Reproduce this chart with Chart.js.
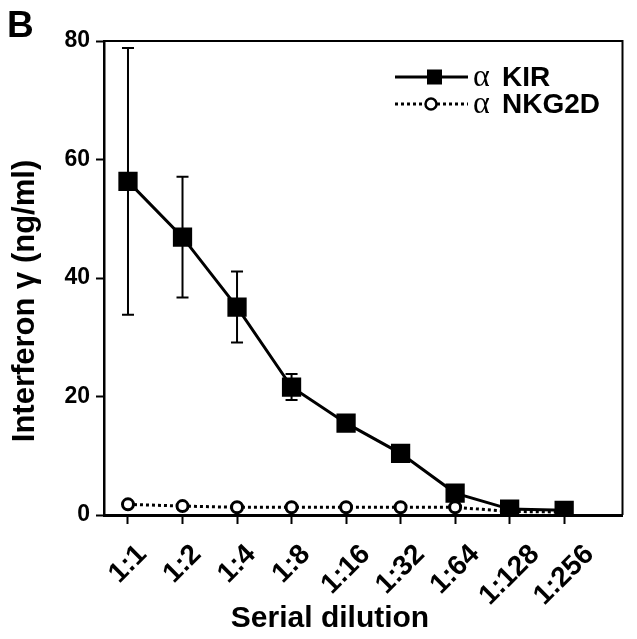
<!DOCTYPE html>
<html>
<head>
<meta charset="utf-8">
<script src="https://cdn.jsdelivr.net/npm/chart.js@4"></script>
<style>
  body { margin: 0; background: #fff; }
</style>
</head>
<body>
<canvas id="chart" width="637" height="639"></canvas>
<script>
const dilutions = ['1:1', '1:2', '1:4', '1:8', '1:16', '1:32', '1:64', '1:128', '1:256'];
const kir = [56.3, 46.9, 35.1, 21.6, 15.5, 10.4, 3.7, 1.0, 0.8];
const kirErr = [22.5, 10.2, 6.0, 2.2, 0, 0, 0, 0, 0];
const nkg2d = [1.8, 1.5, 1.3, 1.3, 1.3, 1.3, 1.3, 0.6, 0.5];
const yTicks = [0, 20, 40, 60, 80];

const sans = "'Liberation Sans', Arial, sans-serif";

// error bars under the KIR squares
const errorBars = {
  id: 'errorBars',
  beforeDatasetsDraw(chart) {
    const ctx = chart.ctx;
    const x = chart.scales.x, y = chart.scales.y;
    ctx.save();
    ctx.strokeStyle = '#000';
    ctx.lineWidth = 2;
    kir.forEach((v, i) => {
      if (!kirErr[i]) return;
      const px = x.getPixelForValue(i);
      const top = y.getPixelForValue(v + kirErr[i]);
      const bot = y.getPixelForValue(v - kirErr[i]);
      ctx.beginPath();
      ctx.moveTo(px, top); ctx.lineTo(px, bot);
      ctx.moveTo(px - 6, top); ctx.lineTo(px + 6, top);
      ctx.moveTo(px - 6, bot); ctx.lineTo(px + 6, bot);
      ctx.stroke();
    });
    ctx.restore();
  }
};

// frame, rotated dilution labels, titles, panel letter and legend
const extras = {
  id: 'extras',
  afterDraw(chart) {
    const ctx = chart.ctx;
    const a = chart.chartArea;
    const xs = chart.scales.x;
    ctx.save();
    ctx.strokeStyle = '#000';
    ctx.fillStyle = '#000';
    ctx.lineWidth = 2;
    ctx.beginPath();
    ctx.moveTo(a.left, a.top); ctx.lineTo(a.right, a.top); ctx.lineTo(a.right, a.bottom);
    ctx.stroke();

    // tick labels, centred on their tick, tilted 45 degrees
    ctx.font = 'bold 28px ' + sans;
    ctx.textAlign = 'right';
    ctx.textBaseline = 'middle';
    dilutions.forEach((lab, i) => {
      const w = ctx.measureText(lab).width;
      const px = xs.getPixelForValue(i);
      ctx.save();
      ctx.translate(px + w / 2 * Math.SQRT1_2, a.bottom + 35);
      ctx.rotate(-Math.PI / 4);
      ctx.fillText(lab, 0, 0);
      ctx.restore();
    });

    // axis titles
    ctx.textAlign = 'center';
    ctx.font = 'bold 30px ' + sans;
    ctx.textBaseline = 'alphabetic';
    ctx.fillText('Serial dilution', 330, 627);
    ctx.save();
    ctx.translate(25, 301);
    ctx.rotate(-Math.PI / 2);
    ctx.textBaseline = 'middle';
    ctx.font = 'bold 31px ' + sans;
    ctx.fillText('Interferon \u03b3 (ng/ml)', 0, 0);
    ctx.restore();

    ctx.textAlign = 'left';
    ctx.font = 'bold 37px ' + sans;
    ctx.fillText('B', 7, 37);

    // legend
    const rows = [
      { y: 77, label: 'KIR', dash: [], marker: 'square' },
      { y: 104, label: 'NKG2D', dash: [3, 3], marker: 'circle' }
    ];
    rows.forEach(r => {
      ctx.lineWidth = 3;
      ctx.setLineDash(r.dash);
      ctx.beginPath();
      ctx.moveTo(395, r.y); ctx.lineTo(468, r.y);
      ctx.stroke();
      ctx.setLineDash([]);
      if (r.marker === 'square') {
        ctx.fillRect(427, r.y - 7.5, 15, 15);
      } else {
        ctx.fillStyle = '#fff';
        ctx.beginPath();
        ctx.arc(431, r.y, 5.5, 0, Math.PI * 2);
        ctx.fill();
        ctx.lineWidth = 2.5;
        ctx.stroke();
        ctx.fillStyle = '#000';
      }
      ctx.textBaseline = 'middle';
      ctx.font = '32px "Liberation Serif", serif';
      ctx.fillText('\u03b1', 473, r.y + 1);
      ctx.font = 'bold 28px ' + sans;
      ctx.fillText(r.label, 502, r.y + 1);
    });
    ctx.restore();
  }
};

new Chart(document.getElementById('chart'), {
  type: 'line',
  data: {
    datasets: [
      {
        label: '\u03b1 NKG2D',
        data: nkg2d.map((v, i) => ({ x: i, y: v })),
        borderColor: '#000',
        borderWidth: 3,
        borderDash: [3, 3],
        pointStyle: 'circle',
        pointRadius: 5.5,
        pointBorderWidth: 3,
        pointBackgroundColor: '#fff',
        pointBorderColor: '#000',
        order: 2
      },
      {
        label: '\u03b1 KIR',
        data: kir.map((v, i) => ({ x: i, y: v })),
        borderColor: '#000',
        borderWidth: 3,
        pointStyle: 'rect',
        pointRadius: 11.5,
        pointBackgroundColor: '#000',
        pointBorderColor: '#000',
        order: 1
      }
    ]
  },
  options: {
    responsive: false,
    animation: false,
    layout: { padding: { top: 41, right: 10, left: 0, bottom: 0 } },
    plugins: { legend: { display: false }, tooltip: { enabled: false } },
    scales: {
      x: {
        type: 'linear',
        min: -0.44,
        max: 9.07,
        afterFit(scale) { scale.height = 124; },
        afterBuildTicks(scale) { scale.ticks = dilutions.map((_, i) => ({ value: i })); },
        grid: { drawOnChartArea: false, tickLength: 9, tickWidth: 2, tickColor: '#000' },
        border: { color: '#000', width: 3 },
        ticks: { display: false }
      },
      y: {
        min: 0,
        max: 80,
        afterFit(scale) { scale.width = 104; },
        afterBuildTicks(scale) { scale.ticks = yTicks.map(v => ({ value: v })); },
        grid: { drawOnChartArea: false, tickLength: 8, tickWidth: 2, tickColor: '#000' },
        border: { color: '#000', width: 2.5 },
        ticks: {
          color: '#000',
          font: { family: sans, size: 23, weight: 'bold' },
          padding: 6
        }
      }
    }
  },
  plugins: [errorBars, extras]
});
</script>
</body>
</html>
